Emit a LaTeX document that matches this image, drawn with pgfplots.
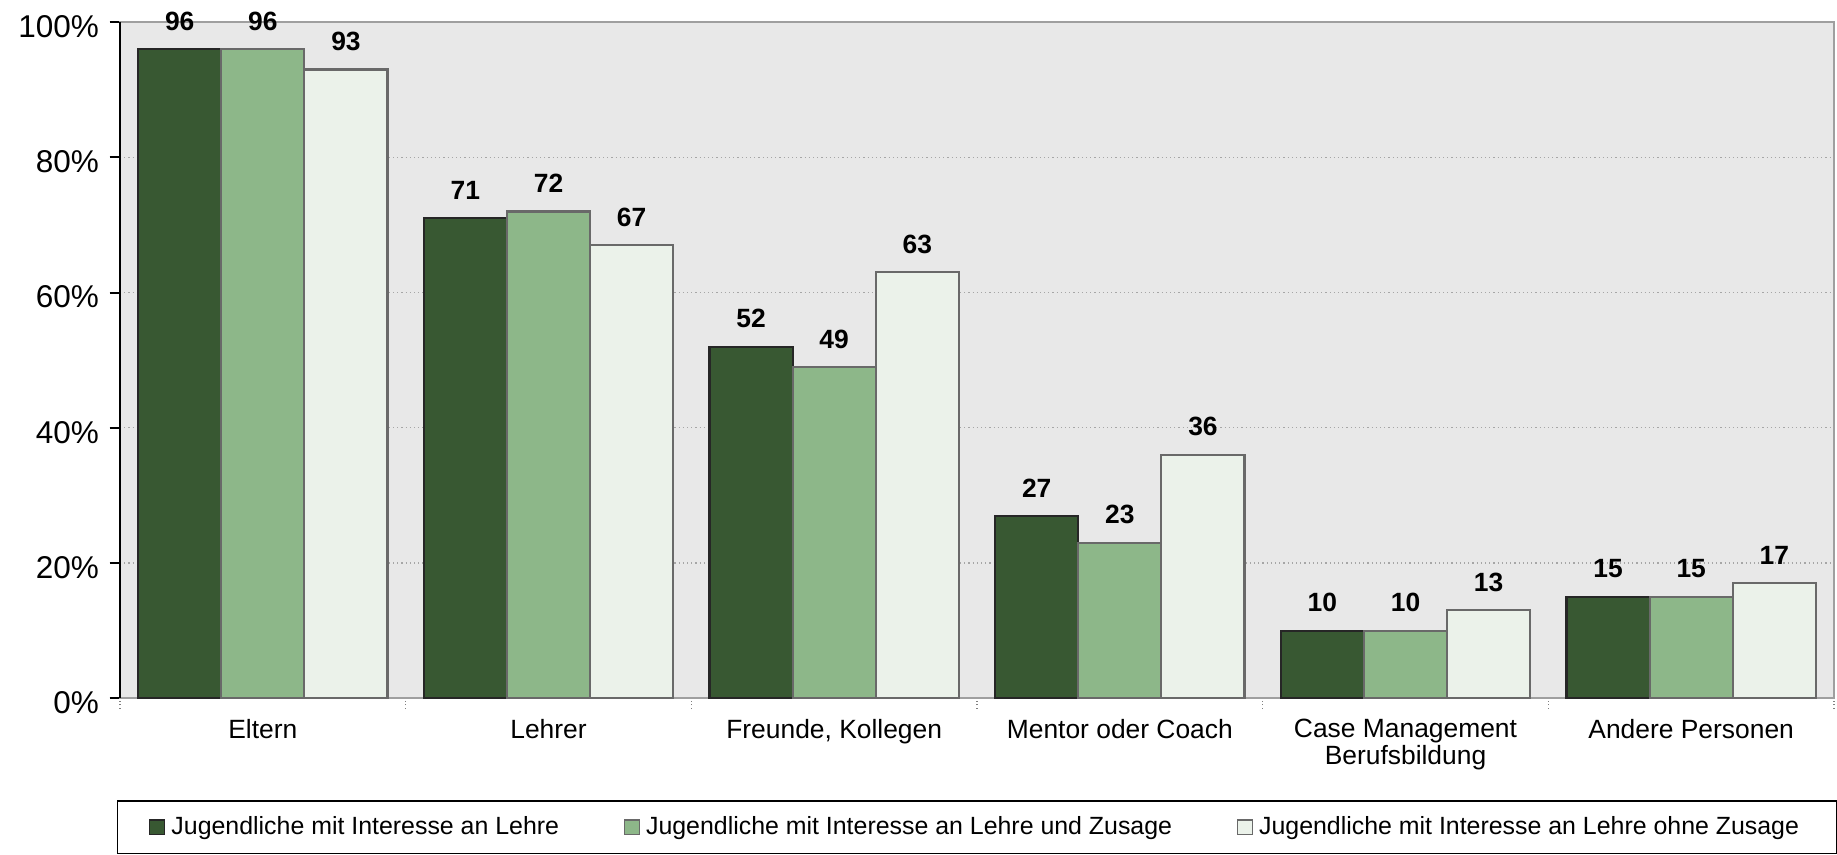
\documentclass[border=0pt]{standalone}
\usepackage{fontspec}
\setmainfont{Liberation Sans}
\usepackage{pgfplots}
\pgfplotsset{compat=1.18}

\definecolor{cDark}{RGB}{56,88,50}
\definecolor{cMid}{RGB}{141,183,137}
\definecolor{cLight}{RGB}{235,242,234}
\definecolor{cBg}{RGB}{232,232,232}
\definecolor{cEdge}{RGB}{105,105,105}

\pgfplotsset{sqlegend/.style={legend image code/.code={\draw[##1, line width=0.5pt] (0pt,-2.4pt) rectangle (5pt,2.4pt);}}}

\begin{document}
\begin{tikzpicture}
\useasboundingbox (-40pt,-52pt) rectangle (572.3pt,232.7pt);
\begin{axis}[
  at={(0,0)}, anchor=south west,
  scale only axis, width=571.3pt, height=225.3pt,
  ybar=0pt, bar width=27.7pt,
  xmin=-0.5, xmax=5.5, ymin=0, ymax=100,
  clip=false,
  axis background/.style={fill=cBg},
  axis line style={draw=gray!75, line width=0.5pt},
  xtick={0,...,5},
  xticklabels={Eltern, Lehrer, {Freunde, Kollegen}, Mentor oder Coach, {Case Management\\Berufsbildung}, Andere Personen},
  xticklabel style={align=center, font=\fontsize{8.8}{8.8}\selectfont},
  xtick style={draw=none},
  extra x ticks={-0.5,0.5,1.5,2.5,3.5,4.5,5.5},
  extra x tick labels={},
  extra x tick style={xtick style={draw=gray, densely dotted, line width=0.5pt}, grid=none},
  ytick={0,20,40,60,80,100},
  yticklabels={0\%,20\%,40\%,60\%,80\%,100\%},
  yticklabel style={font=\fontsize{10.5}{12}\selectfont, yshift=-1.5pt},
  ytick style={black, line width=0.7pt},
  ytick pos=left, xtick pos=bottom, tick align=outside,
  major tick length=3.5pt,
  ymajorgrids, grid style={gray!70, densely dotted, line width=0.4pt},
  nodes near coords,
  /pgf/number format/assume math mode=true,
  every node near coord/.append style={font=\bfseries\fontsize{8.8}{10}\selectfont, black, yshift=2.5pt},
  legend columns=3,
  legend style={at={(0.5,-0.151)}, anchor=north, draw=black, line width=0.5pt, fill=white,
    font=\fontsize{8.3}{10}\selectfont, inner xsep=10.5pt, inner ysep=3pt,
    /tikz/every even column/.append style={column sep=19.5pt}},
]
\addplot[fill=cDark, draw=black!85, line width=0.7pt, sqlegend] coordinates {(0,96) (1,71) (2,52) (3,27) (4,10) (5,15)};
\addplot[fill=cMid, draw=cEdge, line width=0.7pt, sqlegend] coordinates {(0,96) (1,72) (2,49) (3,23) (4,10) (5,15)};
\addplot[fill=cLight, draw=cEdge, line width=0.7pt, sqlegend] coordinates {(0,93) (1,67) (2,63) (3,36) (4,13) (5,17)};
\legend{Jugendliche mit Interesse an Lehre, Jugendliche mit Interesse an Lehre und Zusage, Jugendliche mit Interesse an Lehre ohne Zusage}
\draw[black, line width=0.8pt] (rel axis cs:0,0) -- (rel axis cs:0,1);
\end{axis}
\end{tikzpicture}
\end{document}
